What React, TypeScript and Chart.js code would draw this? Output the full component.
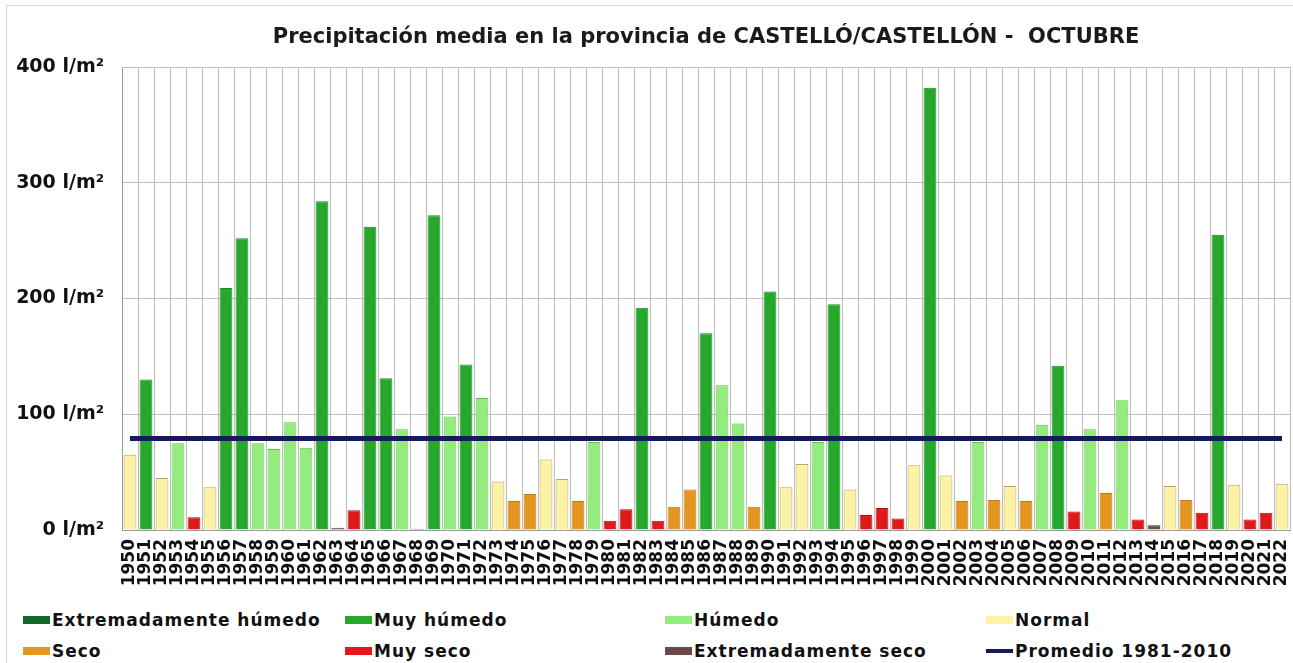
import React, { useEffect, useRef } from 'react';
import { Chart, registerables } from 'chart.js';

Chart.register(...registerables);

const TITLE = 'Precipitación media en la provincia de CASTELLÓ/CASTELLÓN -  OCTUBRE';

const YEARS = [
  '1950', '1951', '1952', '1953', '1954', '1955', '1956', '1957', '1958', '1959',
  '1960', '1961', '1962', '1963', '1964', '1965', '1966', '1967', '1968', '1969',
  '1970', '1971', '1972', '1973', '1974', '1975', '1976', '1977', '1978', '1979',
  '1980', '1981', '1982', '1983', '1984', '1985', '1986', '1987', '1988', '1989',
  '1990', '1991', '1992', '1993', '1994', '1995', '1996', '1997', '1998', '1999',
  '2000', '2001', '2002', '2003', '2004', '2005', '2006', '2007', '2008', '2009',
  '2010', '2011', '2012', '2013', '2014', '2015', '2016', '2017', '2018', '2019',
  '2020', '2021', '2022',
];

const PRECIP = [
  65, 130, 45, 75, 11, 37, 209, 252, 75, 70,
  93, 71, 284, 2, 17, 262, 131, 87, 1, 272,
  98, 143, 114, 42, 25, 31, 61, 44, 25, 76,
  8, 18, 192, 8, 20, 35, 170, 125, 92, 20,
  206, 37, 57, 76, 195, 35, 13, 19, 10, 56,
  382, 47, 25, 76, 26, 38, 25, 91, 142, 16,
  87, 32, 112, 9, 4, 38, 26, 15, 255, 39,
  9, 15, 40,
];

const CLASS = [
  'N', 'MH', 'N', 'H', 'MS', 'N', 'MH', 'MH', 'H', 'H',
  'H', 'H', 'MH', 'ES', 'MS', 'MH', 'MH', 'H', 'ES', 'MH',
  'H', 'MH', 'H', 'N', 'S', 'S', 'N', 'N', 'S', 'H',
  'MS', 'MS', 'MH', 'MS', 'S', 'S', 'MH', 'H', 'H', 'S',
  'MH', 'N', 'N', 'H', 'MH', 'N', 'MS', 'MS', 'MS', 'N',
  'MH', 'N', 'S', 'H', 'S', 'N', 'S', 'H', 'MH', 'MS',
  'H', 'S', 'H', 'MS', 'ES', 'N', 'S', 'MS', 'MH', 'N',
  'MS', 'MS', 'N',
];

const AVERAGE_1981_2010 = 79;
const Y_MAX = 400;
const Y_STEP = 100;
const Y_UNIT = ' l/m²';

const FILL: Record<string, string> = {
  EH: '#15652b',
  MH: '#26a82c',
  H: '#94ec7c',
  N: '#fcf4a4',
  S: '#e4961e',
  MS: '#e01a1a',
  ES: '#6e4848',
};
const EDGE: Record<string, string> = {
  EH: '#0e4a1e',
  MH: '#1f8f24',
  H: '#62c24e',
  N: '#b8a468',
  S: '#c27a14',
  MS: '#b01212',
  ES: '#4a2e2e',
};
const AVG_COLOR = '#18185a';

const LEGEND_ITEMS = [
  { label: 'Extremadamente húmedo', key: 'EH', x: 23, row: 0 },
  { label: 'Muy húmedo', key: 'MH', x: 345, row: 0 },
  { label: 'Húmedo', key: 'H', x: 665, row: 0 },
  { label: 'Normal', key: 'N', x: 986, row: 0 },
  { label: 'Seco', key: 'S', x: 23, row: 1 },
  { label: 'Muy seco', key: 'MS', x: 345, row: 1 },
  { label: 'Extremadamente seco', key: 'ES', x: 665, row: 1 },
  { label: 'Promedio 1981-2010', key: 'AVG', x: 986, row: 1 },
];

const FONT = '"DejaVu Sans", Verdana, sans-serif';

const titlePlugin = {
  id: 'centeredTitle',
  afterDraw(chart: any) {
    const { ctx, chartArea } = chart;
    ctx.save();
    ctx.font = `bold 21px ${FONT}`;
    ctx.fillStyle = '#1a1a1a';
    ctx.textAlign = 'center';
    ctx.textBaseline = 'middle';
    ctx.fillText(TITLE, (chartArea.left + chartArea.right) / 2, 38);
    ctx.restore();
  },
};

export default function App() {
  const canvasRef = useRef<HTMLCanvasElement | null>(null);

  useEffect(() => {
    if (!canvasRef.current) return;
    const chart = new Chart(canvasRef.current, {
      type: 'bar',
      data: {
        labels: YEARS,
        datasets: [
          {
            type: 'line',
            label: 'Promedio 1981-2010',
            data: YEARS.map(() => AVERAGE_1981_2010),
            borderColor: AVG_COLOR,
            borderWidth: 5,
            pointRadius: 0,
            order: 0,
          } as any,
          {
            type: 'bar',
            label: 'Precipitación',
            data: PRECIP,
            backgroundColor: CLASS.map((c) => FILL[c]),
            borderColor: CLASS.map((c) => EDGE[c]),
            borderWidth: 1,
            barPercentage: 0.8,
            categoryPercentage: 1,
            order: 1,
          },
        ],
      },
      options: {
        animation: false,
        responsive: false,
        maintainAspectRatio: false,
        layout: { padding: { left: 8, top: 67, right: 3, bottom: 0 } },
        plugins: {
          legend: { display: false },
          tooltip: { enabled: false },
          title: { display: false },
        },
        scales: {
          x: {
            grid: { color: '#bdbdbd', drawTicks: false, offset: true },
            border: { color: '#9a9a9a' },
            ticks: {
              autoSkip: false,
              maxRotation: 90,
              minRotation: 90,
              padding: 9,
              color: '#111',
              font: { family: FONT, weight: 'bold', size: 17 },
            },
            afterFit: (s: any) => {
              s.height = 80;
              s.paddingLeft = 0;
              s.paddingRight = 0;
            },
          },
          y: {
            min: 0,
            max: Y_MAX,
            grid: { color: '#bdbdbd', drawTicks: false },
            border: { color: '#9a9a9a' },
            ticks: {
              stepSize: Y_STEP,
              padding: 18,
              color: '#111',
              font: { family: FONT, weight: 'bold', size: 19 },
              callback: (v: any) => `${v}${Y_UNIT}`,
            },
            afterFit: (s: any) => {
              s.width = 114;
            },
          },
        },
      },
      plugins: [titlePlugin],
    });
    return () => chart.destroy();
  }, []);

  return (
    <div
      style={{
        position: 'fixed',
        left: 0,
        top: 0,
        width: 1293,
        height: 663,
        background: '#fff',
        overflow: 'hidden',
        fontFamily: FONT,
      }}
    >
      <div
        style={{
          position: 'absolute',
          left: 6,
          top: 5,
          width: 1290,
          height: 700,
          border: '1px solid #d4d4d4',
          boxSizing: 'border-box',
        }}
      />
      <canvas
        ref={canvasRef}
        width={1293}
        height={610}
        style={{ position: 'absolute', left: 0, top: 0, display: 'block' }}
      />
      {LEGEND_ITEMS.map((it) => (
        <div
          key={it.label}
          style={{
            position: 'absolute',
            left: it.x,
            top: it.row === 0 ? 620 : 651,
            transform: 'translateY(-50%)',
            display: 'flex',
            alignItems: 'center',
            whiteSpace: 'nowrap',
          }}
        >
          {it.key === 'AVG' ? (
            <span style={{ width: 27, height: 4, background: AVG_COLOR, display: 'inline-block' }} />
          ) : (
            <span
              style={{
                width: 27,
                height: 8,
                background: FILL[it.key],
                display: 'inline-block',
              }}
            />
          )}
          <span
            style={{
              marginLeft: 2,
              fontWeight: 'bold',
              fontSize: 17,
              color: '#111',
              letterSpacing: 1,
            }}
          >
            {it.label}
          </span>
        </div>
      ))}
    </div>
  );
}
